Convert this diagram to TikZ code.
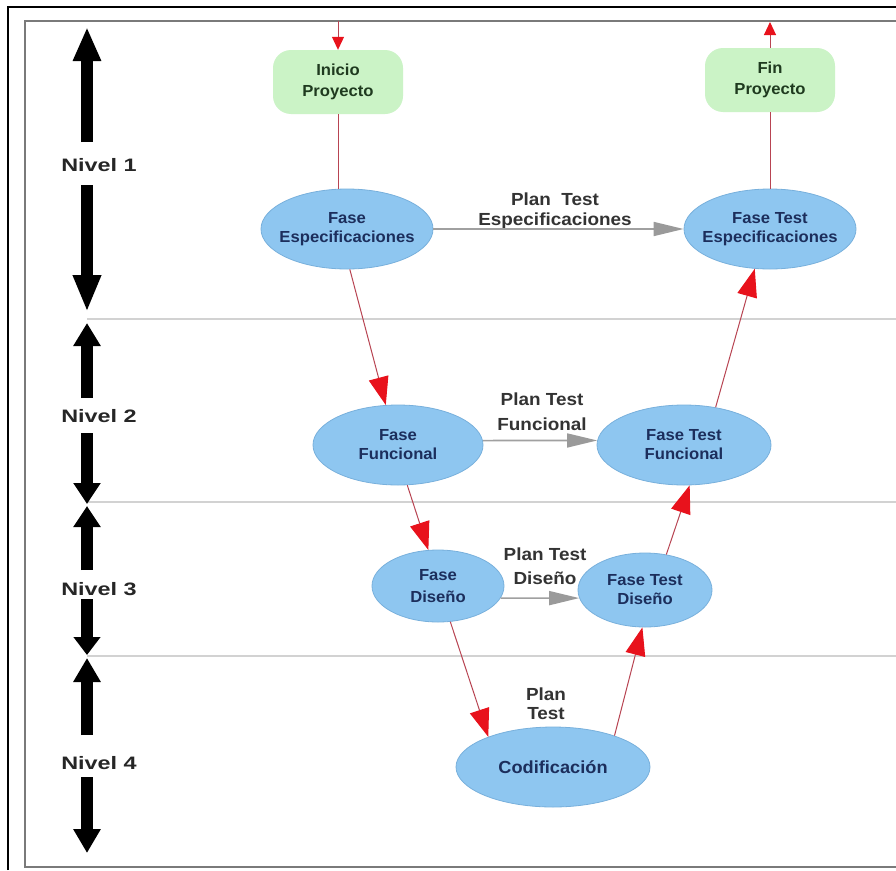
\documentclass[tikz,border=0pt]{standalone}
\usepackage{fontspec}
\usepackage{graphicx}
\setmainfont{Liberation Sans}
\newfontfamily\lvlfont[FakeStretch=1.3]{Liberation Sans}
\newfontfamily\phasefont[FakeStretch=1.04]{Liberation Sans}
\newfontfamily\planfont[FakeStretch=1.08]{Liberation Sans}
\usetikzlibrary{arrows.meta,shapes.geometric}

\definecolor{phasefill}{HTML}{8EC6F0}
\definecolor{phaseline}{HTML}{78B0DC}
\definecolor{phasetext}{HTML}{1C2E5C}
\definecolor{startfill}{HTML}{CBF3C6}
\definecolor{starttext}{HTML}{1F3A1F}
\definecolor{flowline}{HTML}{B84452}
\definecolor{flowhead}{HTML}{E8121C}
\definecolor{planline}{HTML}{A0A0A0}
\definecolor{planhead}{HTML}{9A9A9A}
\definecolor{divider}{HTML}{D2D2D2}
\definecolor{framegray}{HTML}{7A7A7A}
\definecolor{labeltext}{HTML}{333333}

\tikzset{
  phasetxt/.style={text=phasetext, align=center, inner sep=0pt,
    font=\phasefont\bfseries\fontsize{16}{19}\selectfont},
  phase/.style={ellipse, fill=phasefill, draw=phaseline, line width=0.8pt,
    inner sep=0pt, label={[phasetxt]center:#1}},
  milestone/.style={rectangle, rounded corners=18pt, fill=startfill,
    text=starttext, minimum width=130pt, minimum height=64pt, align=center,
    font=\phasefont\bfseries\fontsize{16}{21}\selectfont},
  lvltext/.style={font=\lvlfont\bfseries\fontsize{18}{20}\selectfont, text=black!85},
  plantxt/.style={align=center, text=labeltext,
    font=\planfont\bfseries\fontsize{17.5}{#1}\selectfont},
  flow/.style={draw=flowline, line width=1pt,
    -{Triangle[length=28pt,width=20pt,color=flowhead]}},
  flowsmall/.style={draw=flowline, line width=1pt,
    -{Triangle[length=13pt,width=12pt,color=flowhead]}},
  link/.style={draw=flowline, line width=1pt},
  plan/.style={draw=planline, line width=1.6pt,
    -{Triangle[length=30pt,width=14pt,color=planhead]}},
  lvl/.style={draw=black, line width=12.5pt, -{Triangle[length=#1,width=26pt]}},
}

\begin{document}
\begin{tikzpicture}[x=1pt,y=-1pt]
\useasboundingbox (0,0) rectangle (896,870);
\fill[white] (0,0) rectangle (896,870);

% outer and inner frame
\draw[black, line width=2.2pt] (8,870) -- (8,7) -- (896,7);
\draw[framegray, line width=2pt] (896,21) -- (25,21) -- (25,867) -- (896,867);

% level separators
\draw[divider, line width=1.5pt] (87,319) -- (896,319);
\draw[divider, line width=1.5pt] (87,502) -- (896,502);
\draw[divider, line width=1.5pt] (87,656) -- (896,656);

% level labels and their double arrows
\node[lvltext] (n1) at (99,165) {Nivel 1};
\node[lvltext] (n2) at (99,416) {Nivel 2};
\node[lvltext] (n3) at (99,589) {Nivel 3};
\node[lvltext] (n4) at (99,763) {Nivel 4};

\coordinate (n1a) at (87,142); \coordinate (n1at) at (87,27);
\coordinate (n1b) at (87,185); \coordinate (n1bt) at (87,312);
\coordinate (n2a) at (87,398); \coordinate (n2at) at (87,323);
\coordinate (n2b) at (87,433); \coordinate (n2bt) at (87,504);
\coordinate (n3a) at (87,570); \coordinate (n3at) at (87,506);
\coordinate (n3b) at (87,599); \coordinate (n3bt) at (87,655);
\coordinate (n4a) at (87,735); \coordinate (n4at) at (87,658);
\coordinate (n4b) at (87,777); \coordinate (n4bt) at (87,853);

\draw[lvl=34pt] (n1a) -- (n1at);
\draw[lvl=37pt] (n1b) -- (n1bt);
\draw[lvl=23pt] (n2a) -- (n2at);
\draw[lvl=21pt] (n2b) -- (n2bt);
\draw[lvl=21pt] (n3a) -- (n3at);
\draw[lvl=18pt] (n3b) -- (n3bt);
\draw[lvl=24pt] (n4a) -- (n4at);
\draw[lvl=24pt] (n4b) -- (n4bt);

% start and end of the project
\node[milestone] (ini) at (338,82) {Inicio\\Proyecto};
\node[milestone] (fin) at (770,80) {Fin\\Proyecto};

% phases
\node[phase={Fase\\Especificaciones}, minimum width=172pt, minimum height=80pt] (esp) at (347,229) {};
\node[phase={Fase Test\\Especificaciones}, minimum width=172pt, minimum height=80pt] (tesp) at (770,229) {};
\node[phase={Fase\\Funcional}, minimum width=170pt, minimum height=80pt] (fun) at (398,445) {};
\node[phase={Fase Test\\Funcional}, minimum width=174pt, minimum height=80pt] (tfun) at (684,445) {};
\node[phase={Fase\\[3pt]Diseño}, minimum width=132pt, minimum height=72pt] (dis) at (438,586) {};
\node[phase={Fase Test\\Diseño}, minimum width=134pt, minimum height=74pt] (tdis) at (645,590) {};
\node[ellipse, fill=phasefill, draw=phaseline, line width=0.8pt, inner sep=0pt,
      minimum width=194pt, minimum height=80pt,
      label={[phasetxt, font=\phasefont\bfseries\fontsize{17.5}{20}\selectfont]center:Codificación}]
      (cod) at (553,767) {};

% test plans
\node[plantxt=20] (pesp) at (555,211) {Plan\ \ Test\\Especificaciones};
\node[plantxt=25] (pfun) at (542,412) {Plan Test\\Funcional};
\node[plantxt=24] (pdis) at (545,566) {Plan Test\\Diseño};
\node[plantxt=19] (pcod) at (546,704) {Plan\\Test};

% entry and exit
\coordinate (entry) at (338,21);
\coordinate (exit) at (770,22);
\draw[flowsmall] (entry) -- (ini.north);
\draw[flowsmall] (fin.north) -- (exit);
\draw[link] (ini.south) -- (ini.south |- esp.north);
\draw[link] (tesp.north) -- (fin.south);

% descending and ascending branches of the V
\draw[flow] (esp.-86) -- (fun.107);
\draw[flow] (fun.-77) -- (dis.105);
\draw[flow] (dis.-71) -- (cod.155);
\draw[flow] (cod.27) -- (tdis.-94);
\draw[flow] (tdis.59) -- (tfun.-82);
\draw[flow] (tfun.50) -- (tesp.-111);

% test plan links
\draw[plan] (esp.east) -- (tesp.west);
\draw[plan] (fun.3) -- (tfun.177);
\draw[plan] (dis.-11) -- (tdis.187);
\end{tikzpicture}
\end{document}
